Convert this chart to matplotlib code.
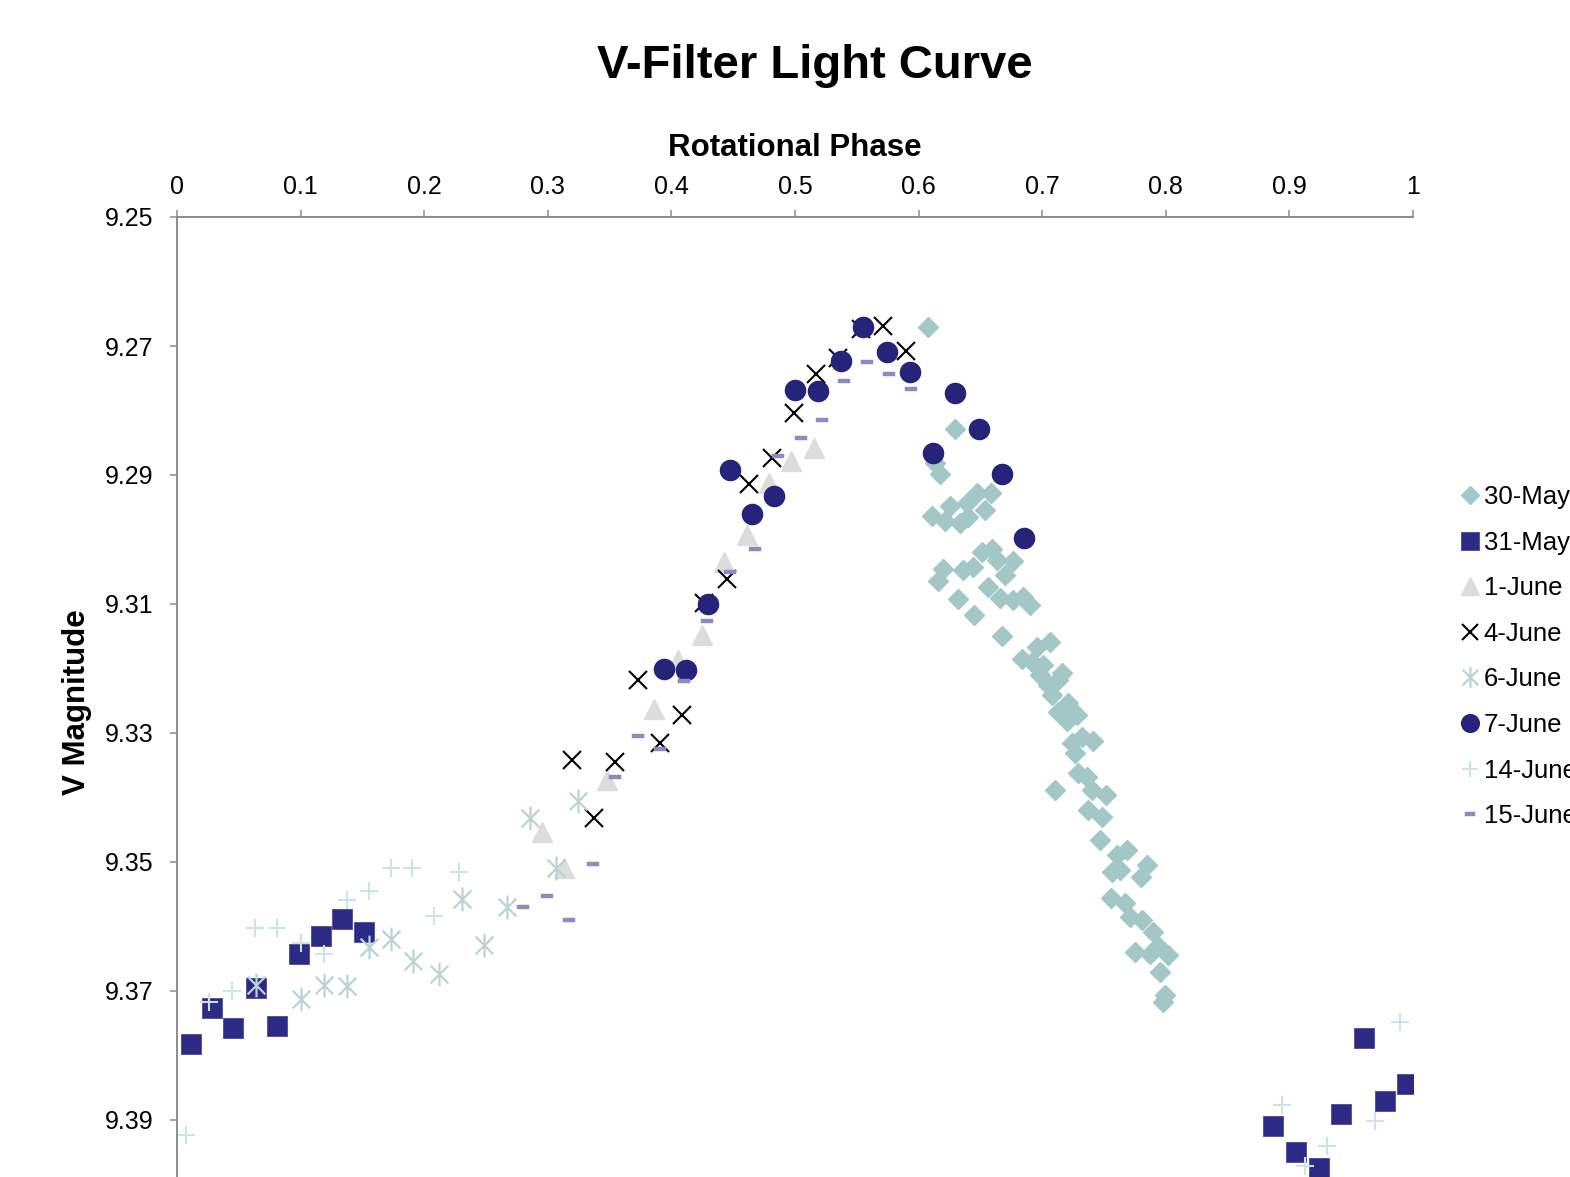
import numpy as np
import matplotlib
matplotlib.use("Agg")
import matplotlib.pyplot as plt
from matplotlib.path import Path

plt.rcParams['font.family'] = ['Liberation Sans', 'DejaVu Sans']

# ---- data (phase, V magnitude) ----
may30_x = [0.6074, 0.6294, 0.6133, 0.6173, 0.6106, 0.6254, 0.6214, 0.6335, 0.6402, 0.6389,
           0.6470, 0.6586, 0.6537, 0.6200, 0.6155, 0.6362, 0.6443, 0.6510, 0.6596, 0.6632,
           0.6766, 0.6699, 0.6564, 0.6659, 0.6766, 0.6847, 0.6901, 0.6316, 0.6451, 0.6672,
           0.7063, 0.6834, 0.6956, 0.6915, 0.7009, 0.6982, 0.7158, 0.7130, 0.7049, 0.7077,
           0.7211, 0.7130, 0.7279, 0.7198, 0.7320, 0.7413, 0.7239, 0.7265, 0.7292, 0.7360,
           0.7104, 0.7400, 0.7516, 0.7373, 0.7481, 0.7468, 0.7684, 0.7603, 0.7562, 0.7630,
           0.7845, 0.7799, 0.7557, 0.7670, 0.7710, 0.7805, 0.7899, 0.7751, 0.7872, 0.7939,
           0.8020, 0.7953, 0.7994, 0.7980]
may30_y = [9.2670, 9.2828, 9.2882, 9.2898, 9.2964, 9.2948, 9.2972, 9.2974, 9.2965, 9.2943,
           9.2928, 9.2928, 9.2955, 9.3045, 9.3065, 9.3047, 9.3042, 9.3019, 9.3014, 9.3032,
           9.3034, 9.3055, 9.3073, 9.3091, 9.3094, 9.3089, 9.3102, 9.3093, 9.3117, 9.3150,
           9.3159, 9.3186, 9.3166, 9.3190, 9.3195, 9.3210, 9.3207, 9.3218, 9.3226, 9.3241,
           9.3254, 9.3267, 9.3272, 9.3282, 9.3306, 9.3313, 9.3316, 9.3331, 9.3362, 9.3368,
           9.3388, 9.3388, 9.3396, 9.3419, 9.3430, 9.3466, 9.3481, 9.3489, 9.3515, 9.3512,
           9.3505, 9.3523, 9.3556, 9.3564, 9.3585, 9.3590, 9.3608, 9.3639, 9.3642, 9.3631,
           9.3644, 9.3670, 9.3706, 9.3717]

may31_x = [0.0111, 0.0281, 0.0453, 0.0639, 0.0809, 0.0987, 0.1163, 0.1335, 0.1511,
           0.8867, 0.9053, 0.9237, 0.9418, 0.9601, 0.9773, 0.9951]
may31_y = [9.3782, 9.3726, 9.3757, 9.3695, 9.3754, 9.3643, 9.3614, 9.3588, 9.3609,
           9.3909, 9.3950, 9.3974, 9.3891, 9.3773, 9.3871, 9.3844]

jun1_x = [0.2951, 0.3134, 0.3479, 0.3862, 0.4051, 0.4245, 0.4426, 0.4609, 0.4790, 0.4968, 0.5156]
jun1_y = [9.3453, 9.3509, 9.3373, 9.3263, 9.3187, 9.3148, 9.3035, 9.2993, 9.2912, 9.2878, 9.2858]

jun4_x = [0.3196, 0.3374, 0.3544, 0.3727, 0.3908, 0.4083, 0.4264, 0.4447, 0.4628, 0.4811,
          0.4990, 0.5167, 0.5350, 0.5534, 0.5714, 0.5896]
jun4_y = [9.3342, 9.3432, 9.3345, 9.3218, 9.3316, 9.3272, 9.3098, 9.3062, 9.2914, 9.2873,
          9.2804, 9.2743, 9.2718, 9.2673, 9.2669, 9.2707]

jun6_x = [0.0639, 0.1001, 0.1192, 0.1373, 0.1551, 0.1729, 0.1912, 0.2120, 0.2303, 0.2484,
          0.2672, 0.2856, 0.3064, 0.3244]
jun6_y = [9.3690, 9.3713, 9.3690, 9.3692, 9.3632, 9.3619, 9.3653, 9.3673, 9.3558, 9.3629,
          9.3570, 9.3432, 9.3510, 9.3405]

jun7_x = [0.3940, 0.4116, 0.4294, 0.4474, 0.4650, 0.4828, 0.5002, 0.5184, 0.5372, 0.5553,
          0.5742, 0.5928, 0.6119, 0.6294, 0.6489, 0.6677, 0.6855]
jun7_y = [9.3201, 9.3203, 9.3100, 9.2892, 9.2961, 9.2933, 9.2768, 9.2770, 9.2723, 9.2671,
          9.2710, 9.2740, 9.2866, 9.2773, 9.2828, 9.2898, 9.2998]

jun14_x = [0.0070, 0.0259, 0.0444, 0.0629, 0.0807, 0.1001, 0.1192, 0.1373, 0.1551, 0.1729,
           0.1904, 0.2082, 0.2279, 0.8940, 0.9124, 0.9307, 0.9693, 0.9892]
jun14_y = [9.3924, 9.3717, 9.3700, 9.3603, 9.3603, 9.3626, 9.3643, 9.3559, 9.3545, 9.3509,
           9.3510, 9.3584, 9.3515, 9.3877, 9.3972, 9.3940, 9.3901, 9.3748]

jun15_x = [0.2801, 0.2991, 0.3173, 0.3363, 0.3544, 0.3733, 0.3908, 0.4102, 0.4288, 0.4477,
           0.4674, 0.4865, 0.5046, 0.5221, 0.5399, 0.5583, 0.5758, 0.5936]
jun15_y = [9.3570, 9.3552, 9.3590, 9.3503, 9.3368, 9.3304, 9.3325, 9.3220, 9.3126, 9.3051,
           9.3014, 9.2870, 9.2842, 9.2814, 9.2754, 9.2725, 9.2743, 9.2766]

x_ticks = np.arange(0, 1.01, 0.1)
y_ticks = np.arange(9.25, 9.395, 0.02)

# Excel-like marker shapes
asterisk = Path([(0, -1), (0, 1), (-0.75, -0.75), (0.75, 0.75), (-0.75, 0.75), (0.75, -0.75)],
                [Path.MOVETO, Path.LINETO] * 3)
dash = Path([(-1, -0.42), (1, -0.42), (1, 0.42), (-1, 0.42), (-1, -0.42)],
            [Path.MOVETO, Path.LINETO, Path.LINETO, Path.LINETO, Path.CLOSEPOLY])

fig = plt.figure(figsize=(15.7, 11.77), dpi=100)
ax = fig.add_axes([177 / 1570, 1 - 1249 / 1177, 1236 / 1570, 1032 / 1177])

ax.plot(may30_x, may30_y, ls='none', marker='D', ms=10, color='#A3C6C7', mec='#A3C6C7', label='30-May')
ax.plot(may31_x, may31_y, ls='none', marker='s', ms=14, color='#2D2A86', mec='#5553A3', mew=0.7, label='31-May')
ax.plot(jun1_x, jun1_y, ls='none', marker='^', ms=14, color='#DCDCDC', mec='#DCDCDC', label='1-June')
ax.plot(jun4_x, jun4_y, ls='none', marker='x', ms=13, color='black', mew=1.5, label='4-June')
ax.plot(jun6_x, jun6_y, ls='none', marker=asterisk, ms=17, color='#BCD3D3', mew=1.6, fillstyle='none', label='6-June')
ax.plot(jun7_x, jun7_y, ls='none', marker='o', ms=14.5, color='#25237A', mec='#25237A', label='7-June')
ax.plot(jun14_x, jun14_y, ls='none', marker='+', ms=13, color='#CAE4E7', mew=1.5, label='14-June')
ax.plot(jun15_x, jun15_y, ls='none', marker=dash, ms=8, color='#8B8BC0', mec='#8B8BC0', mew=0.3, label='15-June')

ax.set_xlim(0, 1)
ax.set_ylim(9.41, 9.25)
ax.xaxis.tick_top()
ax.set_xticks(x_ticks)
ax.set_xticklabels([f'{v:g}' for v in x_ticks])
ax.set_yticks(y_ticks)
ax.set_yticklabels([f'{v:.2f}' for v in y_ticks])
ax.tick_params(axis='both', direction='out', length=5, width=1.1, color='#8C8C8C',
               labelsize=18, labelcolor='black')
ax.tick_params(axis='x', pad=8)
ax.tick_params(axis='y', pad=12)
for side in ['right', 'bottom']:
    ax.spines[side].set_visible(False)
for side in ['top', 'left']:
    ax.spines[side].set_color('#8C8C8C')
    ax.spines[side].set_linewidth(1.4)

fig.text(815 / 1570, 1 - 66 / 1177, 'V-Filter Light Curve', fontsize=34, fontweight='bold',
         ha='center', va='center')
fig.text(795 / 1570, 1 - 148 / 1177, 'Rotational Phase', fontsize=22.5, fontweight='bold',
         ha='center', va='center')
fig.text(77 / 1570, 1 - 702 / 1177, 'V Magnitude', fontsize=22.5, fontweight='bold',
         rotation=90, ha='center', va='center')

# legend runs off the right edge, as in the original export
leg = fig.legend(loc='upper left', bbox_to_anchor=(1460 / 1570, 1 - 485 / 1177),
                 frameon=False, fontsize=18.5, markerscale=0.88, handlelength=0.8,
                 handletextpad=0.12, labelspacing=0.84, borderpad=0, borderaxespad=0)

fig.savefig('out.png', dpi=100)
